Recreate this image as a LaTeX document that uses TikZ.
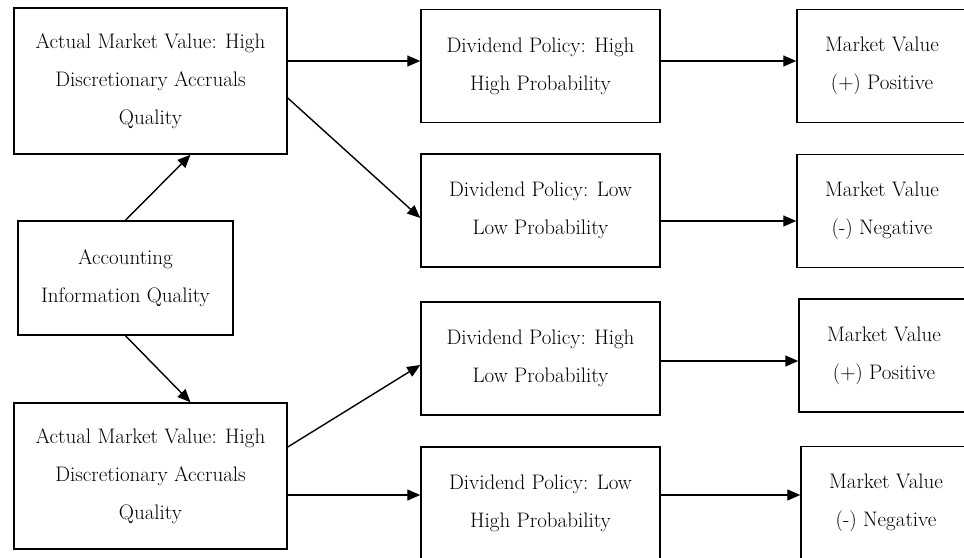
\documentclass[tikz,border=0pt]{standalone}
\usepackage{tikz}
\usetikzlibrary{arrows.meta}
\begin{document}
\begin{tikzpicture}[x=1pt,y=-1pt,
  box/.style={draw,line width=1.5pt,align=center,inner sep=0pt,
              font=\fontsize{21}{38}\selectfont},
  lbox/.style={box,minimum width=273pt,minimum height=146pt},
  cbox/.style={box,minimum width=215pt,minimum height=114pt},
  dbox/.style={box,minimum width=239pt,minimum height=113pt},
  mbox/.style={box,minimum width=170pt,minimum height=113pt},
  a/.style={-{Triangle[length=13pt,width=11pt]},line width=1.4pt}]
\useasboundingbox (0,0) rectangle (964,557);
\clip (0,0) rectangle (964,557);
% left column
\node[lbox] (amvT) at (150.5,81) {Actual Market Value: High\\ Discretionary Accruals\\ Quality};
\node[cbox] (aiq) at (125.5,278) {Accounting\\ Information Quality};
\node[lbox] (amvB) at (150.5,476) {Actual Market Value: High\\ Discretionary Accruals\\ Quality};
% dividend policy
\node[dbox] (dpHH) at (540.5,66) {Dividend Policy: High\\ High Probability};
\node[dbox] (dpLL) at (540.5,210.5) {Dividend Policy: Low\\ Low Probability};
\node[dbox] (dpHL) at (540.5,358.5) {Dividend Policy: High\\ Low Probability};
\node[dbox] (dpLH) at (540.5,503.5) {Dividend Policy: Low\\ High Probability};
% market value
\node[mbox] (mvP1) at (882,66) {Market Value\\ (+) Positive};
\node[mbox] (mvN1) at (882,211) {Market Value\\ (-) Negative};
\node[mbox] (mvP2) at (884,355.5) {Market Value\\ (+) Positive};
\node[mbox] (mvN2) at (886,503) {Market Value\\ (-) Negative};
% arrows
\draw[a] (aiq.north) -- ([xshift=40pt]amvT.south);
\draw[a] (aiq.south) -- ([xshift=40pt]amvB.north);
\draw[a] ([yshift=20pt]amvT.east) -- ([yshift=5pt]dpHH.west);
\draw[a] ([yshift=-17pt]amvT.east) -- ([yshift=-7.5pt]dpLL.west);
\draw[a] ([yshift=29pt]amvB.east) -- ([yshift=-6.5pt]dpHL.west);
\draw[a] ([yshift=-19pt]amvB.east) -- ([yshift=8.5pt]dpLH.west);
\draw[a] ([yshift=5pt]dpHH.east) -- ([yshift=5pt]mvP1.west);
\draw[a] ([yshift=-10.5pt]dpLL.east) -- ([yshift=-10pt]mvN1.west);
\draw[a] ([yshift=-2.5pt]dpHL.east) -- ([yshift=-5.5pt]mvP2.west);
\draw[a] ([yshift=8.5pt]dpLH.east) -- ([yshift=8pt]mvN2.west);
\end{tikzpicture}
\end{document}
